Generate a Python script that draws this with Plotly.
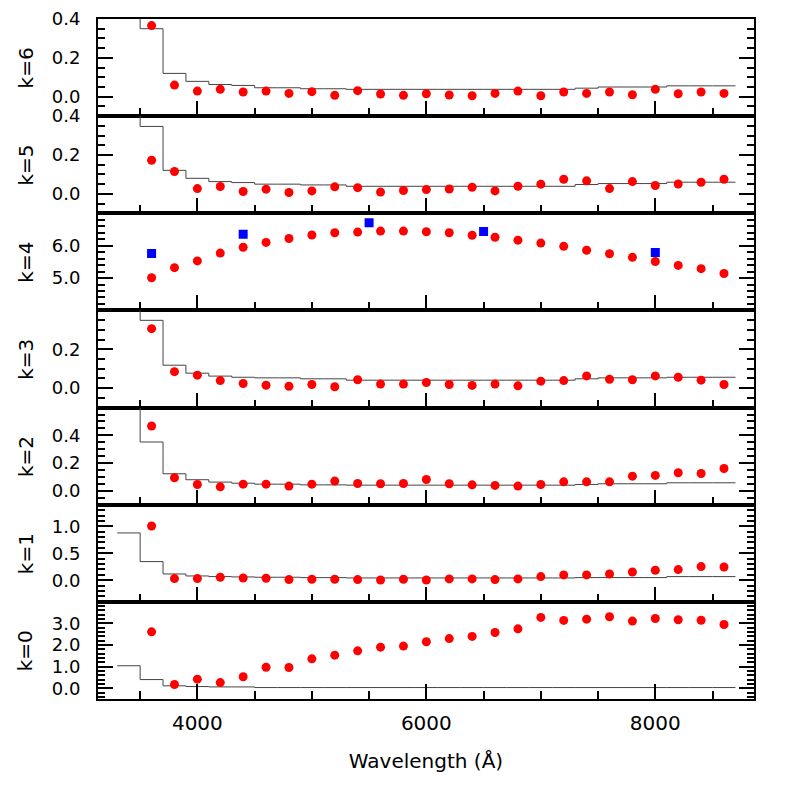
import numpy as np
import plotly.graph_objects as go
from plotly.subplots import make_subplots

# wavelengths of the measured points (red dots)
wavelength = [3600, 3800, 4000, 4200, 4400, 4600, 4800, 5000, 5200, 5400, 5600, 5800, 6000,
              6200, 6400, 6600, 6800, 7000, 7200, 7400, 7600, 7800, 8000, 8200, 8400, 8600]

# centres of the 200 A bins of the step curve
bin_centers = [3400, 3600, 3800, 4000, 4200, 4400, 4600, 4800, 5000, 5200, 5400, 5600, 5800, 6000,
               6200, 6400, 6600, 6800, 7000, 7200, 7400, 7600, 7800, 8000, 8200, 8400, 8600]

# red dots, one list per k
k6 = [0.366, 0.060, 0.029, 0.038, 0.024, 0.029, 0.017, 0.026, 0.007, 0.031, 0.014, 0.007, 0.015,
      0.009, 0.005, 0.017, 0.029, 0.005, 0.024, 0.017, 0.024, 0.010, 0.038, 0.015, 0.024, 0.017]
k5 = [0.173, 0.115, 0.027, 0.038, 0.012, 0.024, 0.007, 0.015, 0.036, 0.032, 0.009, 0.017, 0.022,
      0.025, 0.034, 0.015, 0.039, 0.050, 0.075, 0.067, 0.027, 0.063, 0.043, 0.051, 0.060, 0.075]
k4 = [5.01, 5.32, 5.53, 5.77, 5.95, 6.10, 6.22, 6.33, 6.40, 6.42, 6.45, 6.45, 6.43,
      6.40, 6.32, 6.26, 6.17, 6.08, 5.98, 5.86, 5.75, 5.64, 5.51, 5.39, 5.29, 5.14]
k3 = [0.306, 0.085, 0.067, 0.039, 0.024, 0.015, 0.010, 0.019, 0.007, 0.043, 0.021, 0.021, 0.029,
      0.019, 0.014, 0.021, 0.012, 0.036, 0.039, 0.063, 0.046, 0.043, 0.063, 0.056, 0.041, 0.019]
k2 = [0.467, 0.094, 0.046, 0.029, 0.048, 0.048, 0.034, 0.048, 0.070, 0.053, 0.051, 0.053, 0.082,
      0.051, 0.043, 0.039, 0.034, 0.046, 0.065, 0.065, 0.065, 0.106, 0.111, 0.130, 0.125, 0.161]
k1 = [1.006, 0.031, 0.031, 0.056, 0.043, 0.037, 0.012, 0.019, 0.019, 0.012, 0.006, 0.019, 0.006,
      0.025, 0.025, 0.012, 0.025, 0.068, 0.099, 0.099, 0.117, 0.154, 0.185, 0.198, 0.253, 0.247]
k0 = [2.61, 0.17, 0.42, 0.26, 0.53, 0.97, 0.96, 1.36, 1.53, 1.73, 1.90, 1.95, 2.15,
      2.30, 2.40, 2.58, 2.75, 3.28, 3.14, 3.20, 3.31, 3.11, 3.23, 3.17, 3.15, 2.95]

# blue squares (k=4 only)
blue_wave = [3600, 4400, 5500, 6500, 8000]
blue_k4 = [5.76, 6.35, 6.71, 6.44, 5.79]

# step curves per panel (k=4 has none in range)
step_k6 = [0.90, 0.350, 0.120, 0.079, 0.063, 0.058, 0.046, 0.046, 0.041, 0.041, 0.038, 0.038, 0.038, 0.038,
           0.038, 0.038, 0.038, 0.038, 0.038, 0.038, 0.044, 0.050, 0.050, 0.050, 0.056, 0.056, 0.056]
step_k5 = [0.90, 0.347, 0.121, 0.080, 0.063, 0.058, 0.050, 0.050, 0.046, 0.046, 0.039, 0.039, 0.039, 0.039,
           0.039, 0.039, 0.039, 0.039, 0.039, 0.039, 0.048, 0.053, 0.053, 0.053, 0.060, 0.060, 0.060]
step_k3 = [0.90, 0.349, 0.118, 0.077, 0.062, 0.056, 0.053, 0.053, 0.048, 0.048, 0.041, 0.041, 0.041, 0.041,
           0.041, 0.041, 0.041, 0.041, 0.041, 0.041, 0.048, 0.053, 0.053, 0.053, 0.056, 0.056, 0.056]
step_k2 = [0.90, 0.352, 0.123, 0.080, 0.063, 0.055, 0.048, 0.048, 0.043, 0.043, 0.041, 0.041, 0.041, 0.041,
           0.041, 0.041, 0.041, 0.041, 0.041, 0.041, 0.046, 0.051, 0.051, 0.051, 0.058, 0.058, 0.058]
step_k1 = [0.877, 0.346, 0.117, 0.080, 0.068, 0.062, 0.056, 0.056, 0.049, 0.049, 0.043, 0.043, 0.043, 0.043,
           0.043, 0.043, 0.043, 0.043, 0.043, 0.043, 0.049, 0.050, 0.050, 0.050, 0.068, 0.068, 0.068]
step_k0 = [1.04, 0.40, 0.11, 0.077, 0.06, 0.06, 0.03, 0.03, 0.03, 0.03, 0.03, 0.03, 0.03, 0.03,
           0.03, 0.03, 0.03, 0.03, 0.03, 0.03, 0.03, 0.03, 0.03, 0.03, 0.03, 0.03, 0.03]

# panel setup, top to bottom
panels = [
    ("k=6", k6, step_k6, [-0.1, 0.4], [0.0, 0.2, 0.4], 0.05),
    ("k=5", k5, step_k5, [-0.1, 0.4], [0.0, 0.2, 0.4], 0.05),
    ("k=4", k4, None, [4.0, 7.0], [5.0, 6.0], 0.2),
    ("k=3", k3, step_k3, [-0.1, 0.4], [0.0, 0.2], 0.05),
    ("k=2", k2, step_k2, [-0.1, 0.6], [0.0, 0.2, 0.4], 0.05),
    ("k=1", k1, step_k1, [-0.4, 1.4], [0.0, 0.5, 1.0], 0.1),
    ("k=0", k0, step_k0, [-0.5, 4.0], [0.0, 1.0, 2.0, 3.0], 0.2),
]

FONT = "DejaVu Sans"
TICK_SIZE = 18
LABEL_SIZE = 20

fig = make_subplots(rows=len(panels), cols=1, shared_xaxes=True, vertical_spacing=0)

edges = np.append(np.array(bin_centers) - 100, bin_centers[-1] + 100)

for i, (label, dots, step, yrange, yticks, minor_dt) in enumerate(panels):
    row = i + 1
    if step is not None:
        fig.add_trace(
            go.Scatter(
                x=edges,
                y=np.append(step, step[-1]),
                mode='lines',
                line=dict(color='#444444', width=1, shape='hv'),
                showlegend=False,
                hoverinfo='skip'
            ),
            row=row, col=1
        )
    fig.add_trace(
        go.Scatter(
            x=wavelength,
            y=dots,
            mode='markers',
            marker=dict(color='#ff0000', size=9, symbol='circle'),
            showlegend=False
        ),
        row=row, col=1
    )
    if label == "k=4":
        fig.add_trace(
            go.Scatter(
                x=blue_wave,
                y=blue_k4,
                mode='markers',
                marker=dict(color='#0000ff', size=9, symbol='square'),
                showlegend=False
            ),
            row=row, col=1
        )

    fig.update_yaxes(
        range=yrange,
        tickmode='array',
        tickvals=yticks,
        tickformat='.1f',
        ticks='inside',
        ticklen=15,
        tickwidth=1.5,
        tickcolor='black',
        minor=dict(tickmode='linear', tick0=0, dtick=minor_dt, ticks='inside',
                   ticklen=7, tickwidth=1.5, tickcolor='black', showgrid=False),
        showline=True,
        linewidth=2,
        linecolor='black',
        mirror='ticks',
        showgrid=False,
        zeroline=False,
        automargin=False,
        ticklabelstandoff=12,
        tickfont=dict(family=FONT, size=TICK_SIZE, color='black'),
        row=row, col=1
    )

    # panel label on the left
    dom = fig.layout['yaxis' if row == 1 else f'yaxis{row}'].domain
    fig.add_annotation(
        text=label,
        xref='paper', yref='paper',
        x=-0.11, y=(dom[0] + dom[1]) / 2,
        xanchor='center', yanchor='middle',
        textangle=-90,
        showarrow=False,
        font=dict(family=FONT, size=LABEL_SIZE, color='black')
    )

fig.update_xaxes(
    range=[3132, 8862],
    tick0=0,
    dtick=2000,
    ticks='inside',
    ticklen=15,
    tickwidth=1.5,
    tickcolor='black',
    minor=dict(tick0=0, dtick=500, ticks='inside', ticklen=8, tickwidth=1.5,
               tickcolor='black', showgrid=False),
    showline=True,
    linewidth=2,
    linecolor='black',
    mirror=True,
    showgrid=False,
    zeroline=False,
    automargin=False,
    ticklabelstandoff=5,
    tickfont=dict(family=FONT, size=LABEL_SIZE, color='black')
)
fig.update_xaxes(
    title=dict(text="Wavelength (Å)", font=dict(family=FONT, size=LABEL_SIZE, color='black'), standoff=20),
    row=len(panels), col=1
)

# the page body adds 8 px, so the figure is 8 px smaller than the window
fig.update_layout(
    width=789,
    height=789,
    margin=dict(l=90, r=43, t=11, b=98),
    plot_bgcolor='white',
    paper_bgcolor='white',
    showlegend=False
)

fig.write_html("out.html")
